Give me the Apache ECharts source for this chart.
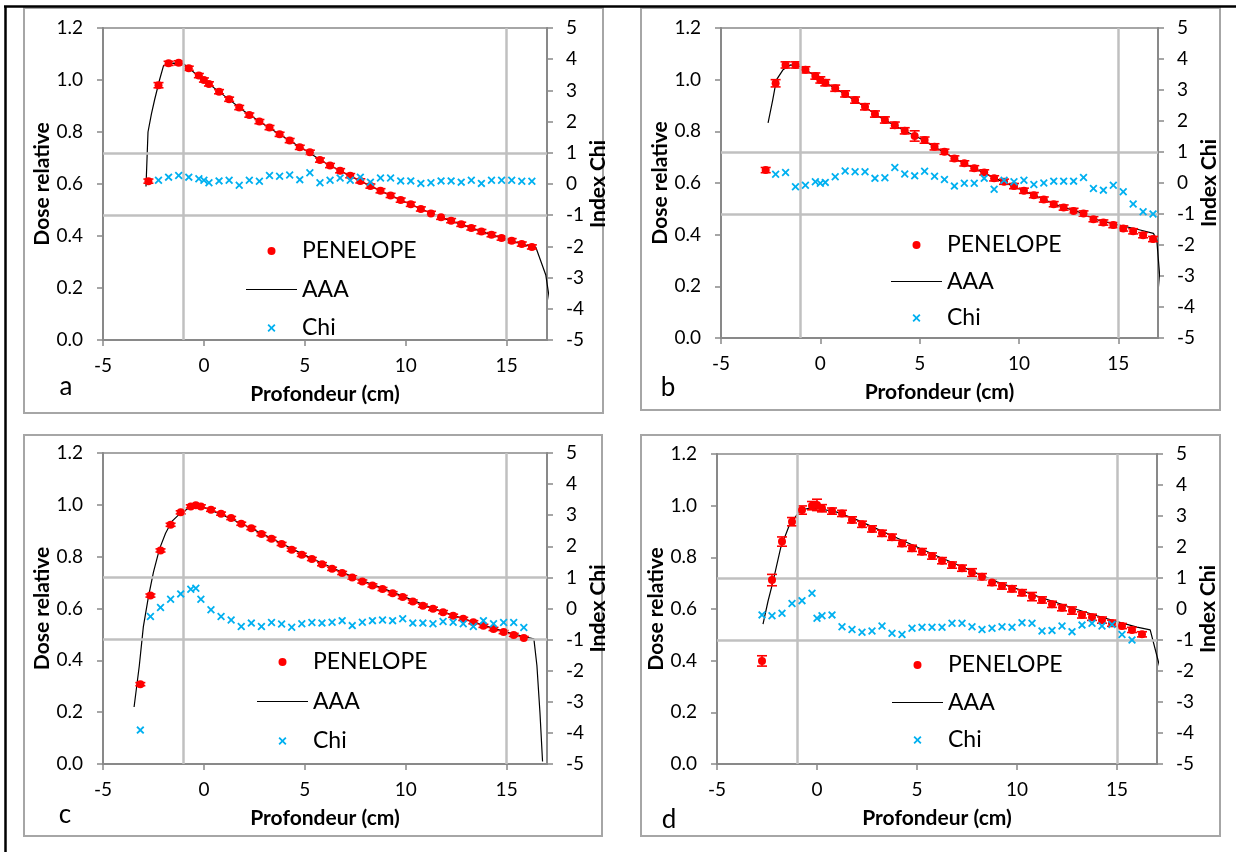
<!DOCTYPE html>
<html><head><meta charset="utf-8">
<script src="https://cdn.jsdelivr.net/npm/echarts@6/dist/echarts.min.js"></script>
<style>html,body{margin:0;padding:0;background:#fff}#c{width:1236px;height:852px}</style>
</head><body><div id="c"></div>
<script>
// ---------------- DATA ----------------
const seriesNames = ['PENELOPE', 'AAA', 'Chi'];
const panelLetters = ['a', 'b', 'c', 'd'];
const xAxisTitle = 'Profondeur (cm)';
const doseTitle = 'Dose relative';
const chiTitle = 'Index Chi';

// Panel a
const penXA = [-2.75,-2.25,-1.75,-1.25,-0.75,-0.25,0,0.25,0.75,1.25,1.75,2.25,2.75,3.25,3.75,4.25,4.75,5.25,5.75,6.25,6.75,7.25,7.75,8.25,8.75,9.25,9.75,10.25,10.75,11.25,11.75,12.25,12.75,13.25,13.75,14.25,14.75,15.25,15.75,16.25];
const penYA = [0.611,0.980,1.064,1.066,1.045,1.017,1.000,0.985,0.955,0.926,0.894,0.865,0.840,0.817,0.791,0.767,0.741,0.722,0.692,0.671,0.651,0.632,0.612,0.592,0.574,0.556,0.538,0.522,0.504,0.487,0.472,0.459,0.445,0.431,0.417,0.405,0.392,0.382,0.369,0.358];
const errA  = [0.008,0.010,0.008,0.008,0.008,0.008,0.008,0.008,0.008,0.008,0.008,0.008,0.008,0.008,0.008,0.008,0.008,0.008,0.008,0.008,0.008,0.008,0.008,0.008,0.008,0.008,0.008,0.008,0.008,0.008,0.008,0.008,0.008,0.008,0.008,0.008,0.008,0.008,0.008,0.008];
const aaaXA = [-2.87,-2.77,-2.6,-2.44,-2.2,-2.0,-1.5,-1.0,-0.5,0,1,2,3,4,5,6,7,8,9,10,11,12,13,14,15,16,16.45,16.94,17.14];
const aaaYA = [0.59,0.80,0.87,0.925,1.0,1.055,1.065,1.062,1.03,1.0,0.94,0.88,0.828,0.779,0.731,0.682,0.641,0.602,0.565,0.530,0.496,0.465,0.438,0.411,0.387,0.364,0.356,0.25,0.147];
const chiXA = [-2.25,-1.75,-1.25,-0.75,-0.25,0,0.25,0.75,1.25,1.75,2.25,2.75,3.25,3.75,4.25,4.75,5.25,5.75,6.25,6.75,7.25,7.75,8.25,8.75,9.25,9.75,10.25,10.75,11.25,11.75,12.25,12.75,13.25,13.75,14.25,14.75,15.25,15.75,16.25];
const chiYA = [0.12,0.22,0.27,0.22,0.17,0.12,0.04,0.10,0.12,-0.04,0.12,0.09,0.27,0.25,0.29,0.14,0.36,0.04,0.12,0.19,0.12,0.22,0.06,0.19,0.19,0.10,0.10,0.02,0.04,0.10,0.10,0.06,0.12,0.02,0.12,0.12,0.12,0.09,0.09];

// Panel b
const penXB = [-2.75,-2.25,-1.75,-1.25,-0.75,-0.25,0,0.25,0.75,1.25,1.75,2.25,2.75,3.25,3.75,4.25,4.75,5.25,5.75,6.25,6.75,7.25,7.75,8.25,8.75,9.25,9.75,10.25,10.75,11.25,11.75,12.25,12.75,13.25,13.75,14.25,14.75,15.25,15.75,16.25,16.75];
const penYB = [0.650,0.986,1.057,1.057,1.038,1.014,0.999,0.988,0.967,0.945,0.921,0.895,0.867,0.844,0.824,0.802,0.782,0.766,0.740,0.721,0.695,0.676,0.657,0.641,0.618,0.605,0.588,0.570,0.553,0.536,0.518,0.505,0.492,0.482,0.460,0.447,0.437,0.424,0.413,0.398,0.383];
const errB  = [0.010,0.014,0.012,0.012,0.012,0.012,0.012,0.012,0.012,0.012,0.012,0.012,0.012,0.012,0.012,0.012,0.020,0.012,0.012,0.010,0.010,0.010,0.010,0.010,0.010,0.010,0.010,0.010,0.010,0.010,0.010,0.010,0.010,0.010,0.010,0.010,0.010,0.010,0.010,0.010,0.010];
const aaaXB = [-2.63,-2.4,-2.21,-1.88,-1.5,-1.0,-0.5,0,1,2,3,4,5,6,7,8,9,10,11,12,13,14,15,16,16.77,16.94,17.2];
const aaaYB = [0.833,0.92,0.999,1.038,1.057,1.05,1.027,1.0,0.955,0.907,0.855,0.812,0.773,0.729,0.685,0.648,0.611,0.578,0.545,0.512,0.488,0.456,0.438,0.420,0.405,0.379,0.13];
const chiXB = [-2.25,-1.75,-1.25,-0.75,-0.25,0,0.25,0.75,1.25,1.75,2.25,2.75,3.25,3.75,4.25,4.75,5.25,5.75,6.25,6.75,7.25,7.75,8.25,8.75,9.25,9.75,10.25,10.75,11.25,11.75,12.25,12.75,13.25,13.75,14.25,14.75,15.25,15.75,16.25,16.75];
const chiYB = [0.28,0.34,-0.12,-0.07,0.04,-0.01,0.02,0.20,0.39,0.36,0.36,0.15,0.17,0.50,0.29,0.23,0.38,0.22,0.11,-0.10,-0.01,-0.01,0.15,-0.20,0.09,0.04,0.09,-0.05,0.00,0.06,0.06,0.06,0.18,-0.18,-0.23,-0.07,-0.28,-0.68,-0.93,-1.00];

// Panel c
const penXC = [-3.15,-2.65,-2.15,-1.65,-1.15,-0.65,-0.4,-0.15,0.35,0.85,1.35,1.85,2.35,2.85,3.35,3.85,4.35,4.85,5.35,5.85,6.35,6.85,7.35,7.85,8.35,8.85,9.35,9.85,10.35,10.85,11.35,11.85,12.35,12.85,13.35,13.85,14.35,14.85,15.35,15.85];
const penYC = [0.308,0.650,0.824,0.923,0.971,0.994,0.998,0.994,0.981,0.966,0.949,0.927,0.910,0.887,0.869,0.849,0.827,0.807,0.791,0.771,0.753,0.737,0.720,0.704,0.689,0.675,0.659,0.644,0.627,0.611,0.599,0.586,0.572,0.560,0.547,0.533,0.521,0.509,0.498,0.486];
const errC  = [0.006,0.006,0.006,0.006,0.006,0.006,0.006,0.006,0.006,0.006,0.006,0.006,0.006,0.006,0.006,0.006,0.006,0.006,0.006,0.006,0.006,0.006,0.006,0.006,0.006,0.006,0.006,0.006,0.006,0.006,0.006,0.006,0.006,0.006,0.006,0.006,0.006,0.006,0.006,0.006];
const aaaXC = [-3.46,-3.2,-3.0,-2.75,-2.5,-2.2,-1.9,-1.6,-1.2,-0.8,-0.4,0,1,2,3,4,5,6,7,8,9,10,11,12,13,14,15,16,16.35,16.5,16.65,16.78];
const aaaYC = [0.22,0.38,0.53,0.645,0.74,0.83,0.89,0.935,0.965,0.985,0.99,0.99,0.958,0.922,0.884,0.845,0.806,0.770,0.735,0.703,0.674,0.643,0.611,0.583,0.557,0.532,0.509,0.489,0.483,0.38,0.20,0.01];
const chiXC = penXC;
const chiYC = [-3.91,-0.26,0.03,0.30,0.47,0.62,0.65,0.30,-0.04,-0.26,-0.37,-0.58,-0.47,-0.58,-0.45,-0.50,-0.60,-0.49,-0.45,-0.47,-0.44,-0.39,-0.55,-0.44,-0.39,-0.37,-0.39,-0.33,-0.47,-0.47,-0.49,-0.42,-0.44,-0.49,-0.58,-0.39,-0.49,-0.45,-0.45,-0.61];

// Panel d
const penXD = [-2.75,-2.25,-1.75,-1.25,-0.75,-0.25,0,0.25,0.75,1.25,1.75,2.25,2.75,3.25,3.75,4.25,4.75,5.25,5.75,6.25,6.75,7.25,7.75,8.25,8.75,9.25,9.75,10.25,10.75,11.25,11.75,12.25,12.75,13.25,13.75,14.25,14.75,15.25,15.75,16.25];
const penYD = [0.399,0.712,0.861,0.938,0.983,1.000,1.003,0.990,0.979,0.970,0.945,0.928,0.910,0.893,0.878,0.854,0.835,0.822,0.805,0.787,0.770,0.758,0.741,0.725,0.703,0.689,0.678,0.663,0.648,0.635,0.618,0.605,0.594,0.577,0.568,0.557,0.545,0.534,0.519,0.502];
const errD  = [0.020,0.022,0.018,0.016,0.016,0.016,0.022,0.014,0.012,0.012,0.012,0.012,0.012,0.012,0.012,0.012,0.012,0.012,0.012,0.012,0.012,0.012,0.015,0.012,0.012,0.012,0.012,0.012,0.016,0.012,0.012,0.012,0.014,0.012,0.012,0.012,0.012,0.010,0.010,0.010];
const aaaXD = [-2.7,-2.45,-2.2,-1.82,-1.38,-0.83,-0.4,0,1,2,3,4,5,6,7,8,9,10,11,12,13,14,15,16,16.66,17.24];
const aaaYD = [0.541,0.63,0.706,0.836,0.925,0.983,0.99,0.99,0.975,0.945,0.91,0.875,0.84,0.805,0.772,0.738,0.705,0.678,0.650,0.624,0.598,0.574,0.551,0.530,0.519,0.345];
const chiXD = [-2.75,-2.25,-1.75,-1.25,-0.75,-0.25,0,0.25,0.75,1.25,1.75,2.25,2.75,3.25,3.75,4.25,4.75,5.25,5.75,6.25,6.75,7.25,7.75,8.25,8.75,9.25,9.75,10.25,10.75,11.25,11.75,12.25,12.75,13.25,13.75,14.25,14.75,15.25,15.75];
const chiYD = [-0.19,-0.22,-0.14,0.18,0.27,0.51,-0.30,-0.22,-0.19,-0.57,-0.66,-0.75,-0.71,-0.55,-0.78,-0.82,-0.62,-0.59,-0.59,-0.59,-0.46,-0.46,-0.57,-0.66,-0.62,-0.57,-0.59,-0.44,-0.46,-0.71,-0.69,-0.55,-0.73,-0.52,-0.46,-0.55,-0.50,-0.82,-1.00];

// reference (grey) lines
const refX = [-1, 15];
const refChi = [1, -1];

// ---------------- LAYOUT ----------------
const panels = [
  {pen:[penXA,penYA,errA], aaa:[aaaXA,aaaYA], chi:[chiXA,chiYA],
   grid:{left:103,top:28,width:444,height:312}, box:[24,8,579,405],
   legend:{left:246,top:238,gap:12.5}, letter:[66,387]},
  {pen:[penXB,penYB,errB], aaa:[aaaXB,aaaYB], chi:[chiXB,chiYB],
   grid:{left:721,top:28,width:437,height:310}, box:[641,8,579,402],
   legend:{left:891,top:232,gap:10.5}, letter:[668,388]},
  {pen:[penXC,penYC,errC], aaa:[aaaXC,aaaYC], chi:[chiXC,chiYC],
   grid:{left:103,top:453,width:444,height:311}, box:[24,435,578,401],
   legend:{left:257,top:649,gap:13.5}, letter:[65,815]},
  {pen:[penXD,penYD,errD], aaa:[aaaXD,aaaYD], chi:[chiXD,chiYD],
   grid:{left:717,top:454,width:440,height:310}, box:[641,435,579,401],
   legend:{left:892,top:652,gap:11.5}, letter:[669,820]}
];

const FONT = 'Lato';
const AXIS_C = '#898989';
const REF_C = '#C0C0C0';
const RED = '#FF0000';
const BLUE = '#00B0F0';
const CROSS = 'path://M0,1.6L1.6,0L5,3.4L8.4,0L10,1.6L6.6,5L10,8.4L8.4,10L5,6.6L1.6,10L0,8.4L3.4,5Z';
const LINE_ICON = 'path://M0,0H100V2.4H0Z';

function zip(xs, ys) { return xs.map((x, i) => [x, ys[i]]); }

function renderErr(params, api) {
  const x = api.value(0), lo = api.value(1), hi = api.value(2);
  const p1 = api.coord([x, hi]), p2 = api.coord([x, lo]);
  const w = 5;
  const style = {stroke: RED, lineWidth: 1.6};
  return {type: 'group', children: [
    {type: 'line', shape: {x1: p1[0], y1: p1[1], x2: p2[0], y2: p2[1]}, style},
    {type: 'line', shape: {x1: p1[0] - w, y1: p1[1], x2: p1[0] + w, y2: p1[1]}, style},
    {type: 'line', shape: {x1: p2[0] - w, y1: p2[1], x2: p2[0] + w, y2: p2[1]}, style}
  ]};
}

const grid = [], xAxis = [], yAxis = [], series = [], legend = [], graphic = [];
const labelFont = {fontSize: 19, color: '#000', fontFamily: FONT};
const titleFont = {fontSize: 21, fontWeight: 'bold', color: '#000', fontFamily: FONT};

panels.forEach((p, i) => {
  grid.push(Object.assign({show: true, borderColor: AXIS_C, borderWidth: 1.5, outerBoundsMode: 'none', containLabel: false}, p.grid));
  xAxis.push({
    type: 'value', gridIndex: i, min: -5, max: 17, interval: 5,
    axisLine: {show: true, onZero: false, lineStyle: {color: AXIS_C, width: 2}},
    axisTick: {show: true, length: 6, lineStyle: {color: AXIS_C, width: 1.5}},
    axisLabel: Object.assign({show: true, margin: 16, showMaxLabel: false}, labelFont),
    splitLine: {show: false},
    name: xAxisTitle, nameLocation: 'middle', nameGap: 44, nameTextStyle: titleFont
  });
  yAxis.push({
    type: 'value', gridIndex: i, min: 0, max: 1.2, interval: 0.2, position: 'left',
    axisLine: {show: true, onZero: false, lineStyle: {color: AXIS_C, width: 2}},
    axisTick: {show: true, length: 6, lineStyle: {color: AXIS_C, width: 1.5}},
    axisLabel: Object.assign({show: true, margin: 20, formatter: v => v.toFixed(1)}, labelFont),
    splitLine: {show: false},
    name: doseTitle, nameLocation: 'middle', nameGap: 48, nameRotate: 90, nameTextStyle: titleFont
  });
  yAxis.push({
    type: 'value', gridIndex: i, min: -5, max: 5, interval: 1, position: 'right',
    axisLine: {show: true, onZero: false, lineStyle: {color: AXIS_C, width: 2}},
    axisTick: {show: true, length: 6, lineStyle: {color: AXIS_C, width: 1.5}},
    axisLabel: Object.assign({show: true, margin: 19}, labelFont),
    splitLine: {show: false},
    name: chiTitle, nameLocation: 'middle', nameGap: 27, nameRotate: 90, nameTextStyle: titleFont
  });

  // reference grey lines
  series.push({
    type: 'line', name: 'ref' + i, xAxisIndex: i, yAxisIndex: 2 * i + 1, data: [], z: 1,
    markLine: {
      silent: true, symbol: ['none', 'none'], animation: false,
      label: {show: false},
      lineStyle: {color: REF_C, width: 2.5, type: 'solid'},
      data: refX.map(v => ({xAxis: v})).concat(refChi.map(v => ({yAxis: v})))
    }
  });
  // AAA line
  series.push({
    type: 'line', name: seriesNames[1], xAxisIndex: i, yAxisIndex: 2 * i,
    data: zip(p.aaa[0], p.aaa[1]), symbol: 'none', showSymbol: false, clip: false, z: 3,
    lineStyle: {color: '#000', width: 1.2}, itemStyle: {color: '#000'}
  });
  // error bars
  series.push({
    type: 'custom', name: 'err' + i, xAxisIndex: i, yAxisIndex: 2 * i, z: 4,
    renderItem: renderErr, encode: {x: 0, y: [1, 2]},
    data: p.pen[0].map((x, k) => [x, p.pen[1][k] - p.pen[2][k], p.pen[1][k] + p.pen[2][k]])
  });
  // PENELOPE
  series.push({
    type: 'scatter', name: seriesNames[0], xAxisIndex: i, yAxisIndex: 2 * i,
    data: zip(p.pen[0], p.pen[1]), symbol: 'circle', symbolSize: 8, z: 5,
    itemStyle: {color: RED, opacity: 1}
  });
  // Chi
  series.push({
    type: 'scatter', name: seriesNames[2], xAxisIndex: i, yAxisIndex: 2 * i + 1,
    data: zip(p.chi[0], p.chi[1]), symbol: CROSS, symbolSize: 8, z: 6,
    itemStyle: {color: BLUE, opacity: 1}
  });

  legend.push({
    show: true, orient: 'vertical', left: p.legend.left, top: p.legend.top,
    padding: 0, itemGap: p.legend.gap, itemWidth: 51, itemHeight: 8,
    selectedMode: false,
    data: [
      {name: seriesNames[0], icon: 'circle', itemStyle: {color: RED}},
      {name: seriesNames[1], icon: LINE_ICON, itemStyle: {color: '#000'}},
      {name: seriesNames[2], icon: CROSS, itemStyle: {color: BLUE}}
    ],
    textStyle: {fontSize: 23, color: '#000', fontFamily: FONT, lineHeight: 26}
  });

  graphic.push({
    type: 'rect', silent: true, z: 0,
    shape: {x: p.box[0], y: p.box[1], width: p.box[2], height: p.box[3]},
    style: {fill: 'none', stroke: '#A6A6A6', lineWidth: 2}
  });
  graphic.push({
    type: 'text', silent: true, x: p.letter[0], y: p.letter[1],
    style: {text: panelLetters[i], fontSize: 26, fontFamily: FONT, fill: '#000', align: 'center', verticalAlign: 'middle'}
  });
});

// outer black page borders
graphic.push({type: 'line', silent: true, shape: {x1: 4, y1: 6.5, x2: 1236, y2: 6.5}, style: {stroke: '#000', lineWidth: 2.5}});
graphic.push({type: 'line', silent: true, shape: {x1: 5.5, y1: 6, x2: 5.5, y2: 852}, style: {stroke: '#000', lineWidth: 2.5}});

const chart = echarts.init(document.getElementById('c'), null, {renderer: 'canvas'});
chart.setOption({
  animation: false,
  backgroundColor: '#fff',
  textStyle: {fontFamily: FONT},
  grid, xAxis, yAxis, series, legend, graphic
});
</script></body></html>
